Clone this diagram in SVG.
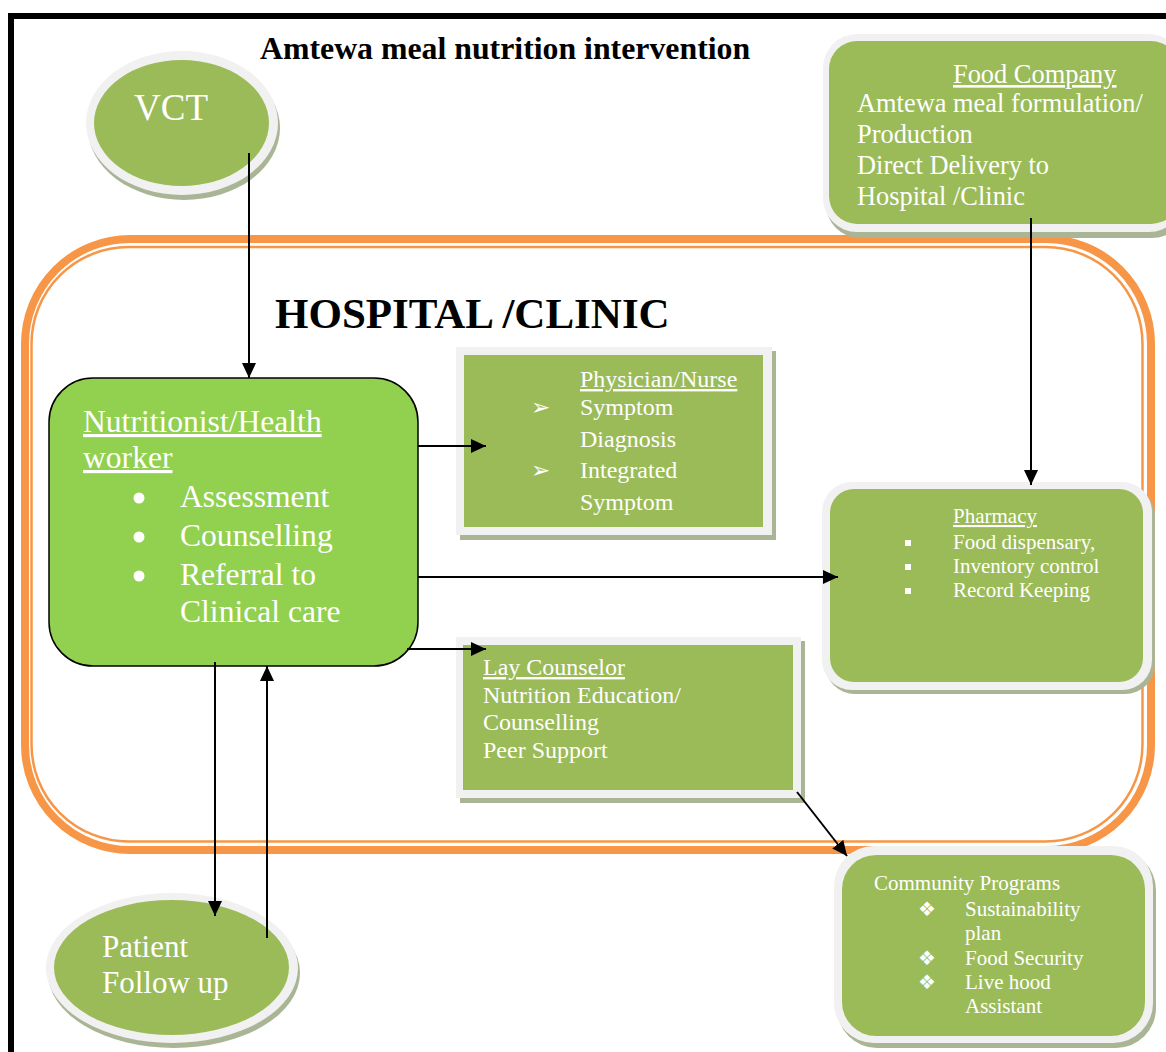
<svg xmlns="http://www.w3.org/2000/svg" width="1166" height="1052" viewBox="0 0 1166 1052">
  <style>
    .serif { font-family: "Liberation Serif", "Times New Roman", serif; }
    .wt { fill: #ffffff; }
    .ul { text-decoration: underline; }
    .sym { font-family: "DejaVu Sans", sans-serif; fill: #ffffff; }
    .shadow { fill: #a9b595; }
    .ring { fill: #f1f1f1; }
    .green { fill: #9bbb59; }
    .conn { stroke: #000000; stroke-width: 2; fill: none; }
  </style>
  <defs>
    <marker id="arrow" markerUnits="userSpaceOnUse" markerWidth="16" markerHeight="14" refX="15" refY="7" orient="auto">
      <path d="M0,0 L15,7 L0,14 z" fill="#000000"/>
    </marker>
  </defs>

  <rect width="1166" height="1052" fill="#ffffff"/>

  <!-- page frame -->
  <rect x="11" y="16" width="1200" height="1100" fill="none" stroke="#000000" stroke-width="6"/>

  <!-- hospital / clinic boundary (double orange line) -->
  <g id="hospital">
    <rect x="25" y="239" width="1126" height="611" rx="105" fill="none" stroke="#f79646" stroke-width="8"/>
    <rect x="31.5" y="247" width="1111" height="594.5" rx="97" fill="none" stroke="#f79646" stroke-width="2.5"/>
    <text x="275" y="328" class="serif" font-size="43" font-weight="bold" fill="#000000">HOSPITAL /CLINIC</text>
  </g>

  <text id="title" x="260" y="59" class="serif" font-size="31.8" font-weight="bold" fill="#000000">Amtewa meal nutrition intervention</text>

  <!-- VCT -->
  <g id="vct">
    <ellipse cx="184" cy="128" rx="96" ry="72" class="shadow"/>
    <ellipse cx="182" cy="123" rx="96" ry="72" class="ring"/>
    <ellipse cx="181.5" cy="123" rx="87.5" ry="63" class="green"/>
    <text x="134" y="120" class="serif wt" font-size="37">VCT</text>
  </g>

  <!-- Food Company -->
  <g id="food-company">
    <rect x="826" y="37" width="360" height="201" rx="34" class="shadow"/>
    <rect x="823" y="34" width="360" height="198" rx="34" class="ring"/>
    <rect x="829" y="41" width="350" height="183" rx="28" class="green"/>
    <g class="serif wt" font-size="26.4">
      <text x="953" y="83" class="ul">Food Company</text>
      <text x="857" y="112">Amtewa meal formulation/</text>
      <text x="857" y="143">Production</text>
      <text x="857" y="174">Direct Delivery to</text>
      <text x="857" y="205">Hospital /Clinic</text>
    </g>
  </g>

  <!-- Nutritionist / Health worker -->
  <g id="nutritionist">
    <rect x="49" y="378" width="369" height="288" rx="44" fill="#92d050" stroke="#000000" stroke-width="1.5"/>
    <g class="serif wt" font-size="31.6">
      <text x="83" y="432" class="ul">Nutritionist/Health</text>
      <text x="83" y="468" class="ul">worker</text>
      <text x="180" y="507">Assessment</text>
      <text x="180" y="546">Counselling</text>
      <text x="180" y="585">Referral to</text>
      <text x="180" y="622">Clinical care</text>
    </g>
    <circle cx="139" cy="498" r="5.5" fill="#ffffff"/>
    <circle cx="139" cy="537" r="5.5" fill="#ffffff"/>
    <circle cx="139" cy="576" r="5.5" fill="#ffffff"/>
  </g>

  <!-- Physician / Nurse -->
  <g id="physician">
    <rect x="460" y="351" width="316" height="189" class="shadow"/>
    <rect x="456" y="347" width="316" height="188" class="ring"/>
    <rect x="464" y="355" width="299" height="172" class="green"/>
    <g class="serif wt" font-size="24">
      <text x="580" y="387" class="ul">Physician/Nurse</text>
      <text x="580" y="415">Symptom</text>
      <text x="580" y="447">Diagnosis</text>
      <text x="580" y="478">Integrated</text>
      <text x="580" y="510">Symptom</text>
    </g>
    <text x="531" y="415" class="sym" font-size="23">➢</text>
    <text x="531" y="478" class="sym" font-size="23">➢</text>
  </g>

  <!-- Pharmacy -->
  <g id="pharmacy">
    <rect x="825" y="486" width="330" height="208" rx="30" class="shadow"/>
    <rect x="822" y="482" width="330" height="208" rx="30" class="ring"/>
    <rect x="830" y="489" width="313" height="193" rx="24" class="green"/>
    <g class="serif wt" font-size="21">
      <text x="953" y="523" class="ul">Pharmacy</text>
      <text x="953" y="549">Food dispensary,</text>
      <text x="953" y="573">Inventory control</text>
      <text x="953" y="597">Record Keeping</text>
    </g>
    <rect x="905" y="540" width="6" height="6" fill="#ffffff"/>
    <rect x="905" y="564" width="6" height="6" fill="#ffffff"/>
    <rect x="905" y="588" width="6" height="6" fill="#ffffff"/>
  </g>

  <!-- Lay Counselor -->
  <g id="lay-counselor">
    <rect x="460" y="641" width="345" height="162" class="shadow"/>
    <rect x="456" y="637" width="345" height="161" class="ring"/>
    <rect x="463" y="645" width="330" height="145" class="green"/>
    <g class="serif wt" font-size="24">
      <text x="483" y="675" class="ul">Lay Counselor</text>
      <text x="483" y="703">Nutrition Education/</text>
      <text x="483" y="730">Counselling</text>
      <text x="483" y="758">Peer Support</text>
    </g>
  </g>

  <!-- Community Programs -->
  <g id="community">
    <rect x="837" y="850" width="319" height="198" rx="40" class="shadow"/>
    <rect x="834" y="846" width="319" height="197" rx="40" class="ring"/>
    <rect x="842" y="855" width="303" height="181" rx="34" class="green"/>
    <g class="serif wt" font-size="21">
      <text x="874" y="890">Community Programs</text>
      <text x="965" y="916">Sustainability</text>
      <text x="965" y="940">plan</text>
      <text x="965" y="965">Food Security</text>
      <text x="965" y="989">Live hood</text>
      <text x="965" y="1013">Assistant</text>
    </g>
    <text x="918" y="916" class="sym" font-size="20">❖</text>
    <text x="918" y="965" class="sym" font-size="20">❖</text>
    <text x="918" y="989" class="sym" font-size="20">❖</text>
  </g>

  <!-- Patient Follow up -->
  <g id="patient">
    <ellipse cx="174" cy="973" rx="126" ry="75" class="shadow"/>
    <ellipse cx="172" cy="968" rx="126" ry="75" class="ring"/>
    <ellipse cx="171.5" cy="967.5" rx="117.5" ry="67.5" class="green"/>
    <g class="serif wt" font-size="31">
      <text x="102" y="957">Patient</text>
      <text x="102" y="993">Follow up</text>
    </g>
  </g>

  <!-- connectors -->
  <g id="connectors" class="conn">
    <path d="M249 153 V378" marker-end="url(#arrow)"/>
    <path d="M1031 218 V485" marker-end="url(#arrow)"/>
    <path d="M418 446 H486" marker-end="url(#arrow)"/>
    <path d="M418 577 H838" marker-end="url(#arrow)"/>
    <path d="M407 649 H486" marker-end="url(#arrow)"/>
    <path d="M797 792 L847 856" marker-end="url(#arrow)"/>
    <path d="M215 662 V916" marker-end="url(#arrow)"/>
    <path d="M267 938 V666" marker-end="url(#arrow)"/>
  </g>
</svg>
